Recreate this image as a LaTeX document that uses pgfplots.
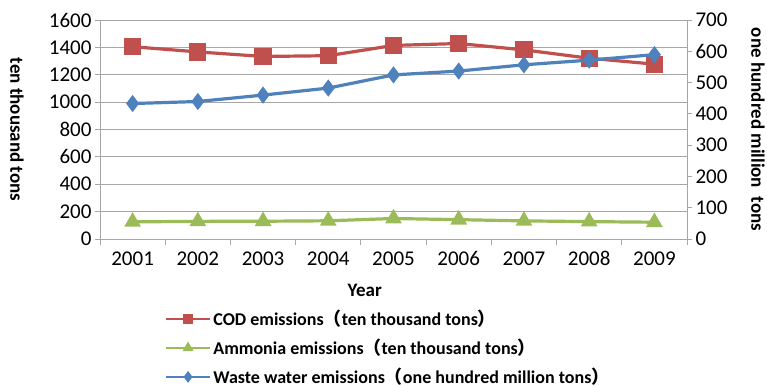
\documentclass[border=0pt]{standalone}
\usepackage{pgfplots}
\pgfplotsset{compat=1.18}
\usepackage{pgfplotstable}
\usepackage{fontspec}
\setmainfont{Carlito}
\newfontfamily\cjk{Noto Sans CJK SC}
\definecolor{codred}{HTML}{C0504D}
\definecolor{nhgreen}{HTML}{9BBB59}
\definecolor{wwblue}{HTML}{4F81BD}
\definecolor{axgray}{HTML}{A6A6A6}
% full-width parentheses
\newcommand{\lp}{{\cjk （}}
\newcommand{\rp}{{\cjk ）}}
\newcommand{\tickfont}{\fontsize{21bp}{25bp}\selectfont}
\newcommand{\lblfont}{\fontsize{19bp}{23bp}\selectfont}
\newcommand{\legfont}{\fontsize{18bp}{21bp}\selectfont}

% emissions by year: COD and ammonia in 10^4 t, waste water in 10^8 t
\pgfplotstableread{
idx year cod nh3 ww
0 2001 1404.8 125.2 433.0
1 2002 1366.9 128.8 439.5
2 2003 1333.6 129.7 460.0
3 2004 1339.2 133.0 482.4
4 2005 1414.2 149.8 524.5
5 2006 1428.2 141.3 536.8
6 2007 1381.8 132.3 556.8
7 2008 1320.7 127.0 571.7
8 2009 1277.5 122.6 589.2
}\emis

\begin{document}
\begin{tikzpicture}
\path[use as bounding box] (-100bp,-148bp) rectangle (667bp,239bp);
\pgfplotsset{
  base/.style={
    scale only axis, width=587bp, height=219bp,
    at={(0,0)}, anchor=south west,
    xmin=-0.5, xmax=8.5, ymin=0,
    tick label style={font=\tickfont, black},
    label style={font=\lblfont\bfseries},
    /pgf/number format/assume math mode=true,
    /pgf/number format/set thousands separator={},
    scaled y ticks=false,
    axis line style={axgray, line width=0.9bp},
    tick align=outside,
    major tick length=5bp,
    ytick style={axgray, line width=0.9bp},
  },
  codstyle/.style={codred, line width=3.2bp, mark=square*, mark size=7bp, mark options={solid}},
  nhstyle/.style={nhgreen, line width=3.2bp, mark=triangle*, mark size=6.5bp, mark options={solid}},
  wwstyle/.style={wwblue, line width=3.2bp, mark=diamond*, mark size=6bp, mark options={solid}},
}
\begin{axis}[base,
  ymax=1600, ytick={0,200,...,1600},
  axis x line*=bottom, axis y line*=left,
  ymajorgrids, grid style={axgray, line width=0.9bp},
  xtick={0,...,8},
  xticklabels={2001,2002,2003,2004,2005,2006,2007,2008,2009},
  minor xtick={-0.5,0.5,...,8.5},
  major x tick style={draw=none},
  minor x tick style={axgray, line width=0.9bp},
  minor tick length=6bp,
  xticklabel style={yshift=-4bp},
  xlabel={Year},
  xlabel style={at={(axis description cs:0.451,-0.233)}, anchor=center},
  ylabel={ten thousand tons},
  ylabel style={at={(axis description cs:-0.1414,0.5)}, rotate=180, anchor=center},
]
\addplot[codstyle] table[x=idx, y=cod] {\emis};
\addplot[nhstyle] table[x=idx, y=nh3] {\emis};
\end{axis}
\begin{axis}[base,
  ymax=700, ytick={0,100,...,700},
  axis x line=none, axis y line*=right,
  ylabel={one hundred million\ \ tons},
  ylabel style={at={(axis description cs:1.121,0.5)}, rotate=180, anchor=center},
  legend style={at={(axis description cs:0.11,-0.316)}, anchor=north west,
    draw=none, fill=none, inner sep=0pt, font=\legfont\bfseries,
    row sep=8bp, cells={anchor=west}},
  legend image code/.code={%
    \draw[line width=2.6bp, mark size=3.8bp, mark repeat=2, mark phase=2]
      plot coordinates {(0bp,0bp) (22bp,0bp) (44bp,0bp)};},
]
\addlegendimage{codstyle}
\addlegendentry{COD emissions\lp ten thousand tons\rp}
\addlegendimage{nhstyle}
\addlegendentry{Ammonia emissions\lp ten thousand tons\rp}
\addplot[wwstyle] table[x=idx, y=ww] {\emis};
\addlegendentry{Waste water emissions\lp one hundred million tons\rp}
\end{axis}
\end{tikzpicture}
\end{document}
